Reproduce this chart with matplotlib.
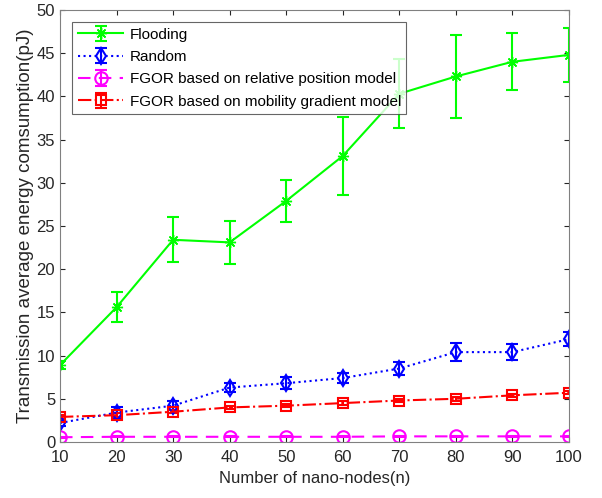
import matplotlib
matplotlib.use("Agg")
import matplotlib.pyplot as plt

plt.rcParams['font.family'] = ['Liberation Sans', 'DejaVu Sans']

x = [10, 20, 30, 40, 50, 60, 70, 80, 90, 100]
flood = [8.9, 15.6, 23.4, 23.1, 27.9, 33.1, 40.3, 42.3, 44.0, 44.8]
flood_err = [0.5, 1.7, 2.6, 2.5, 2.4, 4.5, 4.0, 4.8, 3.3, 3.1]
rand = [2.2, 3.4, 4.2, 6.3, 6.8, 7.4, 8.5, 10.4, 10.4, 11.9]
rand_err = [0.3, 0.6, 0.5, 0.5, 0.7, 0.6, 0.7, 1.0, 0.9, 0.8]
rel = [0.55, 0.6, 0.6, 0.6, 0.6, 0.6, 0.65, 0.65, 0.65, 0.65]
rel_err = [0.05, 0.05, 0.05, 0.05, 0.05, 0.05, 0.05, 0.05, 0.05, 0.05]
mob = [2.9, 3.1, 3.5, 4.0, 4.2, 4.5, 4.8, 5.0, 5.4, 5.7]
mob_err = [0.2, 0.2, 0.2, 0.2, 0.2, 0.2, 0.2, 0.2, 0.2, 0.2]
labels = ["Flooding", "Random", "FGOR based on relative position model",
          "FGOR based on mobility gradient model"]

fig = plt.figure(figsize=(6.02, 4.98), dpi=100)
ax = fig.add_axes([0.0997, 0.1125, 0.8453, 0.8675])

kw = dict(capsize=4, elinewidth=1.5, capthick=1.5, linewidth=1.5)
ax.errorbar(x, flood, yerr=flood_err, color='#00ff00', linestyle='-', marker=(8, 2, 0),
            markersize=8, label=labels[0], **kw)
ax.errorbar(x, rand, yerr=rand_err, color='#0000ff', linestyle=':', marker='d',
            markerfacecolor='none', markersize=8, markeredgewidth=1.5,
            label=labels[1], **kw)
ax.errorbar(x, rel, yerr=rel_err, color='#ff00ff', linestyle=(0, (6, 4)), marker='o',
            markerfacecolor='none', markersize=9, markeredgewidth=1.5,
            label=labels[2], **kw)
ax.errorbar(x, mob, yerr=mob_err, color='#ff0000', linestyle='-.', marker='s',
            markerfacecolor='none', markersize=6.5, markeredgewidth=1.5,
            label=labels[3], **kw)

ax.set_xlim(10, 100)
ax.set_ylim(0, 50)
ax.set_xticks(x)
ax.set_yticks(range(0, 51, 5))
ax.tick_params(direction='in', top=True, right=True, labelsize=12, colors='#262626')
ax.tick_params(axis='x', pad=6)
for s in ax.spines.values():
    s.set_color('#808080')
ax.set_xlabel("Number of nano-nodes(n)", fontsize=12, color='#262626', labelpad=4)
ax.set_ylabel("Transmission average energy comsumption(pJ)", fontsize=13.5,
              color='#262626', labelpad=2)
leg = ax.legend(loc='upper left', fontsize=11, fancybox=False, edgecolor='#404040',
                borderaxespad=0.8, handlelength=3.0, labelspacing=0.55,
                borderpad=0.35, handletextpad=0.4)
leg.get_frame().set_linewidth(0.8)

fig.savefig("out.png", dpi=100)
